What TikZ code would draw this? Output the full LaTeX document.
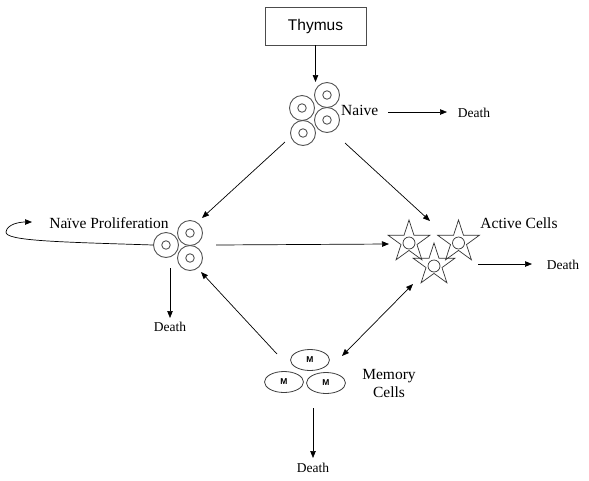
\documentclass[tikz,border=0pt]{standalone}
\usepackage{fontspec}
\setmainfont{Liberation Serif}
\newfontfamily\thysans{Liberation Sans}
\usetikzlibrary{arrows.meta,shapes.geometric}
\definecolor{cellgray}{HTML}{555555}
\begin{document}
\begin{tikzpicture}[x=1pt,y=-1pt,
  conn/.style={-{Triangle[length=7pt,width=5.5pt]},line width=0.7pt,black},
  dconn/.style={{Triangle[length=7pt,width=5.5pt]}-{Triangle[length=7pt,width=5.5pt]},line width=0.7pt,black},
  cellout/.style={circle,draw=cellgray,line width=0.9pt,minimum size=25pt,inner sep=0pt},
  cellin/.style={circle,draw=cellgray,line width=0.9pt,minimum size=8.5pt,inner sep=0pt},
  starcell/.style={star,star points=5,star point ratio=2.618,draw=black!80,line width=0.7pt,minimum size=44pt,inner sep=0pt},
  starin/.style={circle,draw=black!80,line width=0.7pt,minimum size=12pt,inner sep=0pt},
  memcell/.style={ellipse,draw=black!75,line width=0.8pt,minimum width=39pt,minimum height=21pt,inner sep=0pt,font=\thysans\bfseries\fontsize{8.5}{9}\selectfont},
  lab/.style={font=\fontsize{15.5}{17}\selectfont,inner sep=0pt},
  deathlab/.style={font=\fontsize{13.5}{14}\selectfont,inner sep=0pt}
]
\useasboundingbox (0,0) rectangle (589,480);
\fill[white] (0,0) rectangle (589,480);

% Thymus
\node[draw=black!70,line width=0.6pt,minimum width=101pt,minimum height=38pt,inner sep=0pt,font=\thysans\fontsize{15.5}{17}\selectfont] (thymus) at (315.5,26) {Thymus};

% Naive cells
\node[cellout] (na1) at (302,108) {};
\node[cellin] (na1i) at (na1) {};
\node[cellout] (na2) at (327,95) {};
\node[cellin] (na2i) at (na2) {};
\node[cellout] (na3) at (327,120) {};
\node[cellin] (na3i) at (na3) {};
\node[cellout] (na4) at (303,133) {};
\node[cellin] (na4i) at (na4) {};
\node[lab,anchor=west] (naive) at (341,110) {Naive};
\node[deathlab] (death1) at (474,113) {Death};

% Proliferation cells
\node[cellout] (pr1) at (166,245) {};
\node[cellin] (pr1i) at (pr1) {};
\node[cellout] (pr2) at (190,233) {};
\node[cellin] (pr2i) at (pr2) {};
\node[cellout] (pr3) at (190,258) {};
\node[cellin] (pr3i) at (pr3) {};
\node[lab] (prolab) at (109,223) {Naïve Proliferation};
\node[deathlab] (death2) at (170,327) {Death};

% Active cells
\node[starcell] (ac1) at (409,242) {};
\node[starin] (ac1i) at (409,243) {};
\node[starcell] (ac2) at (458.5,242) {};
\node[starin] (ac2i) at (458.5,243) {};
\node[starcell] (ac3) at (434,265) {};
\node[starin] (ac3i) at (434,266) {};
\node[lab] (actlab) at (519,223) {Active Cells};
\node[deathlab] (death3) at (563,265) {Death};

% Memory cells
\node[memcell] (m1) at (310,360) {M};
\node[memcell] (m2) at (284,382) {M};
\node[memcell] (m3) at (326,383) {M};
\node[lab,align=center] (memlab) at (389,383) {Memory\\[1pt]Cells};
\node[deathlab] (death4) at (313,468) {Death};

% connector endpoints
\coordinate (thyend) at (315.5,82);
\coordinate (nvs) at (388,112);
\coordinate (nve) at (447,112);
\coordinate (nl1) at (285,142);
\coordinate (nl2) at (202,218);
\coordinate (nr1) at (345,143);
\coordinate (nr2) at (430,221);
\coordinate (loop1) at (153,245);
\coordinate (loop2) at (32,222);
\coordinate (pd1) at (170,268);
\coordinate (pd2) at (170,318);
\coordinate (pa1) at (216,245);
\coordinate (pa2) at (389,244);
\coordinate (ad1) at (478,264);
\coordinate (ad2) at (532,264);
\coordinate (mp1) at (277,354);
\coordinate (mp2) at (201,272);
\coordinate (ma1) at (342,356);
\coordinate (ma2) at (413,284);
\coordinate (md1) at (313,408);
\coordinate (md2) at (313,458);

\draw[conn] (thymus.south) -- (thyend);
\draw[conn] (nvs) -- (nve);
\draw[conn] (nl1) -- (nl2);
\draw[conn] (nr1) -- (nr2);
\draw[conn] (loop1) .. controls (60,242) and (5,241) .. (6,232) .. controls (7,224) and (20,222) .. (loop2);
\draw[conn] (pd1) -- (pd2);
\draw[conn] (pa1) -- (pa2);
\draw[conn] (ad1) -- (ad2);
\draw[conn] (mp1) -- (mp2);
\draw[dconn] (ma1) -- (ma2);
\draw[conn] (md1) -- (md2);
\end{tikzpicture}
\end{document}
